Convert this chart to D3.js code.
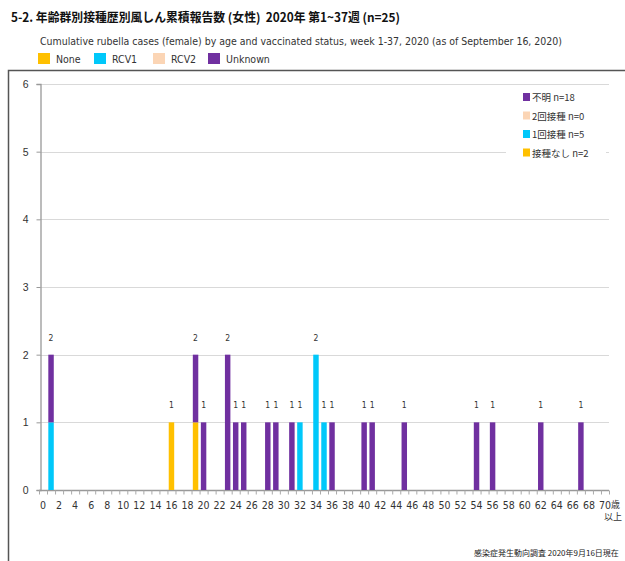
<!DOCTYPE html>
<html>
<head>
<meta charset="utf-8">
<script src="https://cdn.jsdelivr.net/npm/d3@7"></script>
<style>
  body { margin: 0; background: #fff; }
  svg { display: block; }
  text { font-family: "DejaVu Sans Condensed", "Noto Sans CJK JP", sans-serif; }
</style>
</head>
<body>
<script>
// ages that have at least one case
const caseAges = [1, 16, 19, 20, 23, 24, 25, 28, 29, 31, 32, 34, 35, 36, 40, 41, 45, 54, 56, 62, 67];
const noneCases    = [0, 1, 1, 0, 0, 0, 0, 0, 0, 0, 0, 0, 0, 0, 0, 0, 0, 0, 0, 0, 0];
const rcv1Cases    = [1, 0, 0, 0, 0, 0, 0, 0, 0, 0, 1, 2, 1, 0, 0, 0, 0, 0, 0, 0, 0];
const rcv2Cases    = [0, 0, 0, 0, 0, 0, 0, 0, 0, 0, 0, 0, 0, 0, 0, 0, 0, 0, 0, 0, 0];
const unknownCases = [1, 0, 1, 1, 2, 1, 1, 1, 1, 1, 0, 0, 0, 1, 1, 1, 1, 1, 1, 1, 1];

const seriesKeys = ["None", "RCV1", "RCV2", "Unknown"];
const seriesColors = ["#ffc000", "#00c8fa", "#fbd5b5", "#7030a0"];
const innerLegend = ["不明 n=18", "2回接種 n=0", "1回接種 n=5", "接種なし n=2"];
const innerLegendColors = ["#7030a0", "#fbd5b5", "#00c8fa", "#ffc000"];
const yTicks = [0, 1, 2, 3, 4, 5, 6];

const title = "5-2. 年齢群別接種歴別風しん累積報告数 (女性)  2020年 第1~37週 (n=25)";
const subtitle = "Cumulative rubella cases (female) by age and vaccinated status, week 1-37, 2020 (as of September 16, 2020)";
const footer = "感染症発生動向調査 2020年9月16日現在";

const rows = caseAges.map((a, i) => ({
  age: String(a),
  None: noneCases[i], RCV1: rcv1Cases[i], RCV2: rcv2Cases[i], Unknown: unknownCases[i]
}));

const W = 625, H = 561;
const svg = d3.select("body").append("svg").attr("width", W).attr("height", H);

const ages = d3.range(0, 71).map(String);
const x = d3.scaleBand().domain(ages).range([39, 609]).paddingInner(0.32).paddingOuter(0.16);
const y = d3.scaleLinear().domain([0, 6]).range([490, 84]);

// frame
svg.append("path")
  .attr("d", "M8.5," + H + "V70.5H" + W)
  .attr("fill", "none").attr("stroke", "#555").attr("stroke-width", 1.5);

// title block
svg.append("text").attr("x", 11).attr("y", 22)
  .attr("font-size", 12.5).attr("font-weight", "bold").attr("fill", "#111")
  .attr("textLength", 389).attr("lengthAdjust", "spacingAndGlyphs")
  .style("font-family", "'Noto Sans CJK JP', sans-serif")
  .style("white-space", "pre")
  .text(title);
svg.append("text").attr("x", 40).attr("y", 45)
  .attr("font-size", 10.5).attr("fill", "#333")
  .attr("textLength", 522).attr("lengthAdjust", "spacingAndGlyphs")
  .text(subtitle);

const topLegendX = [38, 94, 153, 208];
const topLeg = svg.append("g");
seriesKeys.forEach((k, i) => {
  topLeg.append("rect").attr("x", topLegendX[i]).attr("y", 53).attr("width", 12).attr("height", 11)
    .attr("fill", seriesColors[i]);
  topLeg.append("text").attr("x", topLegendX[i] + 18).attr("y", 63)
    .attr("font-size", 10.5).attr("fill", "#333").text(k);
});

// gridlines
svg.append("g").selectAll("line").data(yTicks.slice(1)).join("line")
  .attr("x1", 40).attr("x2", 609)
  .attr("y1", d => Math.round(y(d)) + 0.5).attr("y2", d => Math.round(y(d)) + 0.5)
  .attr("stroke", "#d9d9d9").attr("stroke-width", 1.2);

// y axis
const yAxis = svg.append("g").attr("transform", "translate(40.5,0)")
  .call(d3.axisLeft(y).tickValues(yTicks).tickSize(4).tickPadding(8).tickFormat(d3.format("d")));
yAxis.select(".domain").attr("stroke", "#999").attr("stroke-width", 1.3);
yAxis.selectAll(".tick line").attr("stroke", "#999");
yAxis.selectAll(".tick text").attr("font-size", 10.5).attr("fill", "#333")
  .style("font-family", "'Liberation Sans', sans-serif");

// x axis: ticks between categories, labels every second age
const xAxis = svg.append("g").attr("transform", "translate(0,490.5)");
xAxis.append("line").attr("x1", 39).attr("x2", 609).attr("stroke", "#999").attr("stroke-width", 1.3);
const step = x.step();
xAxis.selectAll("line.tk").data(d3.range(0, 72)).join("line").attr("class", "tk")
  .attr("x1", d => 39 + d * step + 0.5).attr("x2", d => 39 + d * step + 0.5)
  .attr("y1", 0).attr("y2", 4).attr("stroke", "#aaa");
xAxis.selectAll("text").data(ages.filter(a => +a % 2 === 0)).join("text")
  .attr("x", d => x(d) + x.bandwidth() / 2).attr("y", 18)
  .attr("text-anchor", "middle").attr("font-size", 10.5).attr("fill", "#333")
  .text(d => d);
svg.append("text").attr("x", 611).attr("y", 508).attr("font-size", 9).attr("fill", "#333")
  .style("font-family", "'Noto Sans CJK JP', sans-serif").text("歳");
svg.append("text").attr("x", 604).attr("y", 520).attr("font-size", 9).attr("fill", "#333")
  .style("font-family", "'Noto Sans CJK JP', sans-serif").text("以上");

// stacked bars
const stacked = d3.stack().keys(seriesKeys)(rows);
svg.append("g").selectAll("g").data(stacked).join("g")
  .attr("fill", (d, i) => seriesColors[i])
  .selectAll("rect").data(d => d).join("rect")
  .attr("x", d => x(d.data.age))
  .attr("width", x.bandwidth())
  .attr("y", d => y(d[1]))
  .attr("height", d => y(d[0]) - y(d[1]));

// totals
svg.append("g").selectAll("text").data(rows).join("text")
  .attr("x", d => x(d.age) + x.bandwidth() / 2)
  .attr("y", d => y(d.None + d.RCV1 + d.RCV2 + d.Unknown) - 14)
  .attr("text-anchor", "middle").attr("font-size", 8.5).attr("fill", "#333")
  .text(d => d.None + d.RCV1 + d.RCV2 + d.Unknown);

// inner legend
const lg = svg.append("g");
lg.append("rect").attr("x", 506).attr("y", 89).attr("width", 100).attr("height", 74).attr("fill", "#fff");
innerLegend.forEach((t, i) => {
  const yy = 97 + i * 18.5;
  lg.append("rect").attr("x", 523).attr("y", yy - 4).attr("width", 7).attr("height", 8)
    .attr("fill", innerLegendColors[i]);
  lg.append("text").attr("x", 532).attr("y", yy + 4).attr("font-size", 9.5).attr("fill", "#333")
    .style("font-family", "'Noto Sans CJK JP', sans-serif").text(t);
});

// source note
svg.append("text").attr("x", 474).attr("y", 556).attr("font-size", 8).attr("fill", "#222")
  .style("font-family", "'Noto Sans CJK JP', sans-serif").text(footer);
</script>
</body>
</html>
